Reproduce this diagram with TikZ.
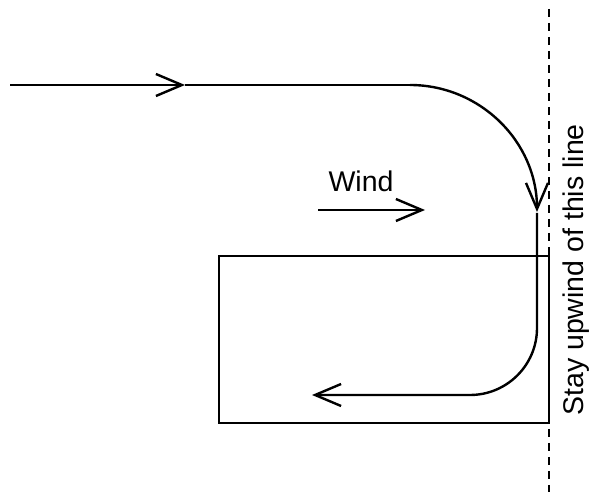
\documentclass[tikz,border=0pt]{standalone}
\usepackage{fontspec}
\setmainfont{Liberation Sans}
\usetikzlibrary{arrows.meta,positioning}

\tikzset{
  track/.style={line width=2.4pt},
  barb/.style={-{Straight Barb[length=26pt,width=22pt,line width=2.4pt]}},
  zonebox/.style={draw,line width=1.8pt,minimum width=330pt,minimum height=167pt,inner sep=0pt},
  limit/.style={line width=2.8pt,dash pattern=on 8pt off 6pt},
  lbl/.style={font=\fontsize{28.5}{34}\selectfont,inner sep=0pt}
}

\begin{document}
\begin{tikzpicture}[x=1pt,y=1pt]
  \useasboundingbox (0,0) rectangle (589,492);
  % restricted zone and its upwind limit
  \node[zonebox] (zone) at (384,152.5) {};
  \coordinate (limtop) at (549,483);
  \coordinate (limbot) at (549,0);
  \draw[limit] (limtop) -- (limbot);
  \node[lbl,rotate=90,anchor=base] (limlabel) at (583,222) {Stay upwind of this line};
  % wind
  \node[lbl] (windlabel) at (361,311) {Wind};
  \coordinate (windA) at (318,282);
  \coordinate (windB) at (425,282);
  \draw[track,barb] (windA) -- (windB);
  % track
  \coordinate (start) at (10,407);
  \coordinate (mid) at (185,407);
  \coordinate (turn) at (410,407);
  \coordinate (downA) at (537,279);
  \coordinate (downB) at (537,164);
  \coordinate (finish) at (312,97);
  \draw[track,barb] (start) -- (mid);
  \draw[track] (mid) -- (turn);
  \draw[track,barb] (turn) arc[start angle=90,end angle=0,radius=127pt];
  \draw[track,barb] (downA) -- (downB) arc[start angle=0,end angle=-90,radius=67pt] -- (finish);
\end{tikzpicture}
\end{document}
